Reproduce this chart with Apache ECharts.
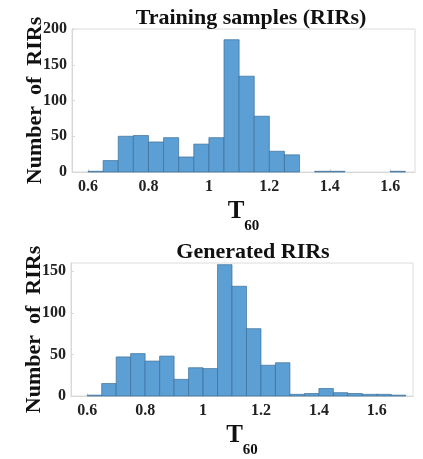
<!DOCTYPE html>
<html>
<head>
<meta charset="utf-8">
<script src="https://cdn.jsdelivr.net/npm/echarts@6/dist/echarts.min.js"></script>
<style>
  html, body { margin: 0; padding: 0; background: #fff; }
  #chart { width: 423px; height: 459px; }
</style>
</head>
<body>
<div id="chart"></div>
<script>
// Histogram bin edges (T60 in seconds), bin width 0.05
const binStarts = [0.60, 0.65, 0.70, 0.75, 0.80, 0.85, 0.90, 0.95, 1.00, 1.05, 1.10,
                   1.15, 1.20, 1.25, 1.30, 1.35, 1.40, 1.45, 1.50, 1.55, 1.60, 1.65];
const binWidth = 0.05;

// Counts per bin
const trainingCounts = [1, 16, 50, 51, 42, 48, 21, 39, 48, 185, 134,
                        78, 29, 24, 0, 1, 1, 0, 0, 0, 1, 0];
const generatedCounts = [1, 15, 47, 51, 42, 48, 20, 34, 33, 158, 132,
                         81, 37, 40, 2, 3, 9, 4, 3, 2, 2, 1];

// Axis ticks
const xTicks = [0.6, 0.8, 1.0, 1.2, 1.4, 1.6];
const yTicksTraining = [0, 50, 100, 150, 200];
const yTicksGenerated = [0, 50, 100, 150];

const titles = ['Training samples (RIRs)', 'Generated RIRs'];
const yName = 'Number  of  RIRs';

const serif = '"Liberation Serif", "Times New Roman", serif';
const barFill = '#5b9fd5';
const barEdge = '#3c6e98';

function binData(counts) {
  return counts.map((c, i) => [binStarts[i], +(binStarts[i] + binWidth).toFixed(2), c]);
}

function renderBin(params, api) {
  const x0 = api.value(0), x1 = api.value(1), v = api.value(2);
  if (v <= 0) return null;
  const p0 = api.coord([x0, v]);
  const p1 = api.coord([x1, 0]);
  return {
    type: 'rect',
    shape: { x: p0[0], y: p0[1], width: p1[0] - p0[0], height: p1[1] - p0[1] },
    style: { fill: barFill, stroke: barEdge, lineWidth: 0.7 }
  };
}

const tickLabel = {
  fontFamily: serif, fontWeight: 'bold', fontSize: 16, color: '#222'
};

function xAxis(gridIndex, min, max) {
  return {
    type: 'value', gridIndex, min, max,
    interval: 0.2,
    axisLine: { show: true, lineStyle: { color: '#d8d8d8' } },
    axisTick: { show: true, inside: true, length: 3, lineStyle: { color: '#d8d8d8' },
                customValues: xTicks },
    splitLine: { show: false },
    axisLabel: Object.assign({}, tickLabel, {
      margin: 7,
      customValues: xTicks,
      formatter: v => (Math.abs(v - 1) < 1e-9 ? '1' : v.toFixed(1))
    }),
    name: '{t|T}{s|60}',
    nameLocation: 'middle',
    nameGap: 27,
    nameMoveOverlap: false,
    nameTextStyle: {
      rich: {
        t: { fontFamily: serif, fontWeight: 'bold', fontSize: 25, color: '#111', verticalAlign: 'top' },
        s: { fontFamily: serif, fontWeight: 'bold', fontSize: 15, color: '#111', padding: [20, 0, 0, 0] }
      }
    }
  };
}

function yAxis(gridIndex, max, ticks) {
  return {
    type: 'value', gridIndex, min: 0, max, interval: 50,
    axisLine: { show: true, lineStyle: { color: '#d8d8d8' } },
    axisTick: { show: true, inside: true, length: 3, lineStyle: { color: '#d8d8d8' },
                customValues: ticks },
    splitLine: { show: false },
    axisLabel: Object.assign({}, tickLabel, { margin: 5, customValues: ticks }),
    name: yName,
    nameLocation: 'middle',
    nameGap: 26,
    nameMoveOverlap: false,
    nameTextStyle: { fontFamily: serif, fontWeight: 'bold', fontSize: 22, color: '#111' }
  };
}

const chart = echarts.init(document.getElementById('chart'), null, { renderer: 'canvas' });
chart.setOption({
  backgroundColor: '#fff',
  animation: false,
  title: [
    { text: titles[0], left: 246, top: 2, textAlign: 'center',
      textStyle: { fontFamily: serif, fontWeight: 'bold', fontSize: 22, color: '#111' } },
    { text: titles[1], left: 248, top: 236, textAlign: 'center',
      textStyle: { fontFamily: serif, fontWeight: 'bold', fontSize: 22, color: '#111' } }
  ],
  grid: [
    { left: 72, right: 8, top: 29, height: 143, show: true, borderColor: '#dcdcdc', borderWidth: 1 },
    { left: 71, right: 10, top: 263, height: 142, show: true, borderColor: '#dcdcdc', borderWidth: 1 }
  ],
  xAxis: [xAxis(0, 0.547, 1.682), xAxis(1, 0.544, 1.725)],
  yAxis: [yAxis(0, 200, yTicksTraining), yAxis(1, 160, yTicksGenerated)],
  series: [
    { type: 'custom', xAxisIndex: 0, yAxisIndex: 0, renderItem: renderBin,
      encode: { x: [0, 1], y: 2 }, data: binData(trainingCounts) },
    { type: 'custom', xAxisIndex: 1, yAxisIndex: 1, renderItem: renderBin,
      encode: { x: [0, 1], y: 2 }, data: binData(generatedCounts) }
  ]
});
</script>
</body>
</html>
